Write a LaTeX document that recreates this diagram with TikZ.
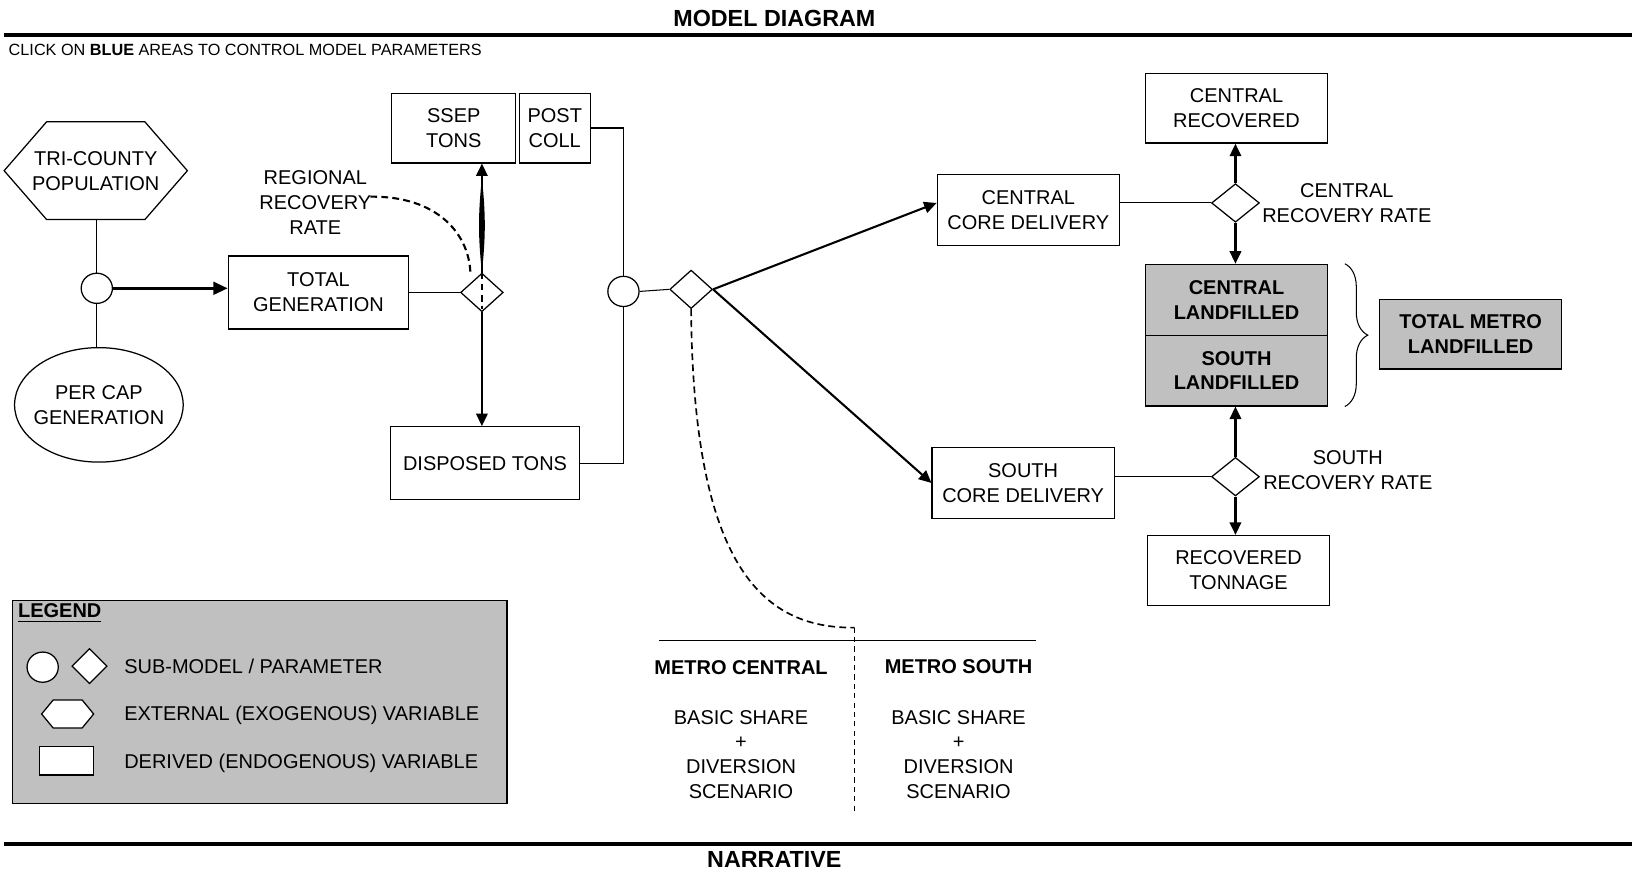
\documentclass[tikz,border=0pt]{standalone}
\usepackage{fontspec}
\setmainfont{Liberation Sans}
\usepackage{tikz}
\usetikzlibrary{arrows.meta,calc,positioning,shapes.geometric,shapes.symbols,decorations.pathreplacing}
\definecolor{kutuGri}{HTML}{C0C0C0}

\begin{document}
\begin{tikzpicture}[x=0.5pt,y=-0.5pt,
  every node/.style={font=\fontsize{9.6}{12}\selectfont},
  kutu/.style={draw,line width=0.6pt,align=center,inner sep=1pt,fill=white,minimum width=87.5pt,minimum height=34pt},
  grikutu/.style={kutu,fill=kutuGri,font=\fontsize{9.6}{12}\selectfont\bfseries},
  altmodel/.style={draw,ellipse,line width=0.6pt,fill=white,minimum width=15pt,minimum height=14.5pt,inner sep=0pt},
  parametre/.style={draw,diamond,line width=0.6pt,fill=white,minimum width=20.5pt,minimum height=18.5pt,inner sep=0pt},
  dissal/.style={draw,line width=0.6pt,fill=white,shape=signal,signal to=west and east,signal pointer angle=98,align=center,inner sep=0pt},
  ince/.style={line width=0.5pt},
  ok/.style={-{Triangle[length=6pt,width=5.5pt]},line width=1pt},
  kalinok/.style={-{Triangle[length=7pt,width=6pt]},line width=1.6pt},
  kesik/.style={dashed,dash pattern=on 3.3pt off 2pt,line width=1pt},
  serit/.style={line width=2pt}]
\useasboundingbox (0,0) rectangle (1568,838);

% basliklar
\node[font=\fontsize{11.2}{13}\selectfont\bfseries] (baslik) at (744,18) {MODEL DIAGRAM};
\draw[serit] (4,34) -- (1568,34);
\node[font=\fontsize{7.8}{9}\selectfont,anchor=west,inner sep=0pt] (tikla) at (8,48) {CLICK ON \textbf{BLUE} AREAS TO CONTROL MODEL PARAMETERS};

% nufus ve uretim
\node[dissal,inner xsep=-7pt,minimum height=47pt] (nufus) at (92,164) {TRI-COUNTY\\POPULATION};
\node[altmodel] (h1) at (93,277) {};
\node[draw,ellipse,line width=0.6pt,minimum width=81pt,minimum height=55pt,align=center,inner xsep=-3.5pt,inner ysep=0pt] (kisibasi) at (95,389) {PER CAP\\GENERATION};
\node[kutu,minimum width=86.5pt,minimum height=35pt] (toplam) at (306,281) {TOTAL\\GENERATION};
\node[parametre] (d1) at (463,281) {};
\node[align=center] (bolgesel) at (303,195) {REGIONAL\\RECOVERY\\RATE};
\node[kutu,minimum width=59.5pt,minimum height=33.5pt] (ssep) at (436,123) {SSEP\\TONS};
\node[kutu,minimum width=34pt,minimum height=33.5pt] (post) at (533,123) {POST\\COLL};
\node[kutu,minimum width=91pt,minimum height=35pt] (gomulen) at (466,445) {DISPOSED TONS};
\node[altmodel] (h2) at (599,280) {};
\node[parametre] (d2) at (664,278) {};

\draw[ince] (h1.north) -- (h1.north |- nufus.south);
\draw[ince] (h1.south) -- (h1.south |- kisibasi.north);
\draw[kalinok] (h1.east) -- (h1.east -| toplam.west);
\draw[ince] (toplam.east) -- (d1.west);
\fill (d1.north) to[bend left=6] ($(d1 |- ssep.south)+(0,14)$) to[bend left=6] (d1.north);
\draw[ok] (d1.north) -- (d1 |- ssep.south);
\draw[ok] (d1.south) -- (d1.south |- gomulen.north);
\draw[kesik] ($(bolgesel.east)+(-8,-6)$) .. controls (420,188) and (452,225) .. ($(d1.north)+(-11,3)$);
\draw[kesik] (d1.north) -- ($(d1.south)+(0,-3)$);
\draw[ince] (post.east) -| (h2.north);
\draw[ince] (gomulen.east) -| (h2.south);
\draw[ince] (h2.east) -- (d2.west);

% merkez ve guney
\node[kutu] (merkezTeslim) at (988,202) {CENTRAL\\CORE DELIVERY};
\node[kutu] (guneyTeslim) at (983,464) {SOUTH\\CORE DELIVERY};
\node[parametre,minimum width=23pt] (d3) at (1187,195) {};
\node[parametre,minimum width=23pt] (d4) at (1187,458) {};
\node[kutu,minimum height=33.5pt] (merkezGeri) at (1188,104) {CENTRAL\\RECOVERED};
\node[grikutu] (merkezGom) at (1188,288) {CENTRAL\\LANDFILLED};
\node[grikutu] (guneyGom) at (1188,356) {SOUTH\\LANDFILLED};
\node[grikutu,minimum height=33.5pt] (toplamGom) at (1413,321) {TOTAL METRO\\LANDFILLED};
\node[kutu,minimum height=33.5pt] (geriTon) at (1190,548) {RECOVERED\\TONNAGE};
\node[align=center] (merkezOran) at (1294,195) {CENTRAL\\RECOVERY RATE};
\node[align=center] (guneyOran) at (1295,452) {SOUTH\\RECOVERY RATE};

\draw[ok] (d2.east) -- (merkezTeslim.west |- d3);
\draw[ok] (d2.east) -- (guneyTeslim.west);
\draw[ince] (d3.west) -- (d3.west -| merkezTeslim.east);
\draw[ince] (d4.west) -- (d4.west -| guneyTeslim.east);
\draw[ok] (d3.north) -- (d3 |- merkezGeri.south);
\draw[ok] (d3.south) -- (d3 |- merkezGom.north);
\draw[ok] (d4.north) -- (d4 |- guneyGom.south);
\draw[ok] (d4.south) -- (d4 |- geriTon.north);
\draw[ince,decorate,decoration={brace,amplitude=11pt}] ($(merkezGom.north east)+(16,0)$) -- ($(guneyGom.south east)+(16,0)$);

% metro tablosu
\coordinate (bolme) at (821,603);
\draw[kesik,line width=0.8pt] (d2.south) .. controls (666,540) and (730,604) .. (bolme);
\draw[ince] (633,615) -- (995,615);
\draw[ince,dashed,dash pattern=on 2.5pt off 2pt] (bolme) -- (821,780);
\node[font=\fontsize{9.6}{12}\selectfont\bfseries] (mMerkez) at (712,641) {METRO CENTRAL};
\node[font=\fontsize{9.6}{12}\selectfont\bfseries] (mGuney) at (921,640) {METRO SOUTH};
\node[align=center] (mMerkezMetin) at (712,725) {BASIC SHARE\\+\\DIVERSION\\SCENARIO};
\node[align=center] (mGuneyMetin) at (921,725) {BASIC SHARE\\+\\DIVERSION\\SCENARIO};

% lejant
\node[draw,fill=kutuGri,line width=0.6pt,minimum width=237.5pt,minimum height=97.5pt,inner sep=0pt] (lejant) at (249.5,674.5) {};
\node[anchor=west,inner sep=0pt,font=\fontsize{9.6}{12}\selectfont\bfseries] (lejantBaslik) at (17,589) {\underline{LEGEND}};
\node[altmodel] (lDaire) at (41,641) {};
\node[parametre,minimum width=17pt,minimum height=17pt] (lKare) at (86,640) {};
\node[dissal,signal pointer angle=101,minimum width=25pt,minimum height=13.5pt] (lAlti) at (65,686) {};
\node[draw,fill=white,line width=0.6pt,minimum width=26pt,minimum height=13.5pt,inner sep=0pt] (lKutu) at (64,731) {};
\node[anchor=west,inner sep=0pt] (lMetin1) at (119,640) {SUB-MODEL / PARAMETER};
\node[anchor=west,inner sep=0pt] (lMetin2) at (119,687) {EXTERNAL (EXOGENOUS) VARIABLE};
\node[anchor=west,inner sep=0pt] (lMetin3) at (119,733) {DERIVED (ENDOGENOUS) VARIABLE};

% anlati
\draw[serit] (4,811) -- (1568,811);
\node[font=\fontsize{11.2}{13}\selectfont\bfseries] (anlati) at (744,826) {NARRATIVE};
\end{tikzpicture}
\end{document}
